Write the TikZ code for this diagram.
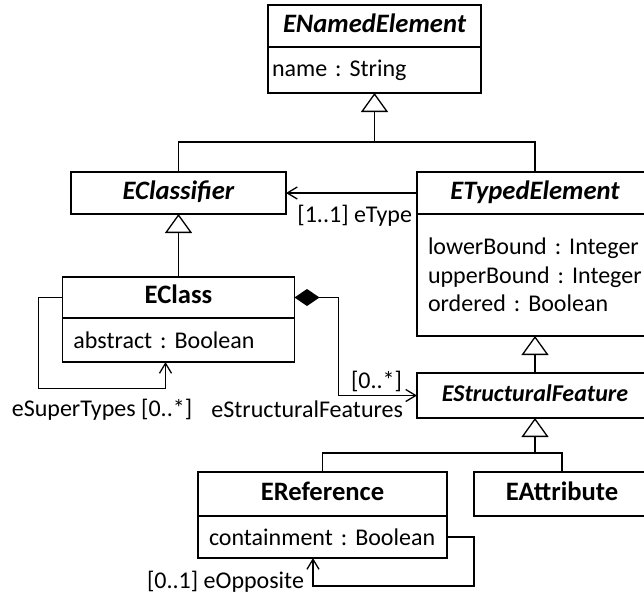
\documentclass[tikz,border=0pt]{standalone}
\usepackage{fontspec}
\setmainfont{Carlito}
\usetikzlibrary{positioning, arrows.meta, calc}
\frenchspacing

\begin{document}
\begin{tikzpicture}[
  x=0.5pt, y=-0.5pt,
  every node/.style={font=\fontsize{12}{14.2}\selectfont, outer sep=0pt},
  head/.style = {draw, line width=0.65pt, anchor=north west, inner sep=0pt, text height=9.2pt, text depth=2.8pt, font=\fontsize{13.3}{15}\selectfont\bfseries},
  abst/.style = {head, font=\fontsize{13.3}{15}\selectfont\bfseries\itshape},
  attr/.style = {draw, line width=0.65pt, align=left, inner ysep=0pt, inner xsep=5.5pt},
  link/.style = {line width=0.65pt},
  gen/.style  = {link, -{Triangle[open, length=9.5pt, width=13.5pt, fill=white]}},
  ref/.style  = {link, -{Straight Barb[length=5pt, width=6pt]}},
  comp/.style = {link, {Diamond[length=12.5pt, width=8.5pt]}-{Straight Barb[length=5pt, width=6pt]}},
  role/.style = {inner sep=0pt},
]
  \path[use as bounding box, clip] (0,0) rectangle (644,594);

  \node[abst, minimum width=106.5pt, minimum height=21pt] (ne) at (268,5) {ENamedElement};
  \node[attr, below=0pt of ne, minimum height=23pt, text width=102.5pt, inner xsep=2pt] (nea) {name : String};
  \node[abst, minimum width=107.5pt, minimum height=21pt] (cf) at (71,172) {EClassifier};
  \node[abst, minimum width=118pt, minimum height=21pt] (te) at (417,172) {ETypedElement};
  \node[attr, below=0pt of te, minimum height=61pt, text width=107pt] (tea) {lowerBound : Integer\\upperBound : Integer\\ordered : Boolean};
  \node[head, minimum width=116pt, minimum height=20.5pt] (cs) at (62.5,277) {EClass};
  \node[attr, below=0pt of cs, minimum height=22pt, text width=105pt] (csa) {abstract : Boolean};
  \node[abst, minimum width=118pt, minimum height=22.5pt, font=\fontsize{12}{15}\selectfont\bfseries\itshape] (sf) at (417,373) {EStructuralFeature};
  \node[head, minimum width=124.5pt, minimum height=22pt] (rf) at (198,472) {EReference};
  \node[attr, below=0pt of rf, minimum height=21pt, text width=113.5pt] (rfa) {containment : Boolean};
  \node[head, minimum width=88pt, minimum height=22pt] (at) at (474,472) {EAttribute};

  \coordinate (j1) at ($(nea.south)+(0,49)$);
  \draw[link] (cf.north) |- (j1) -| (te.north);
  \draw[gen] (j1) -- (nea.south);
  \coordinate (j2) at ($(sf.south)+(0,35)$);
  \draw[link] (rf.north) |- (j2) -| (at.north);
  \draw[gen] (j2) -- (sf.south);
  \foreach \a/\b in {cs/cf,sf/tea} \draw[gen] (\a.north) -- (\b.south);

  \draw[ref] (te.west) -- (cf.east)
        node[pos=0, role, anchor=base east, xshift=-2.5pt, yshift=-14.5pt]{[1..1] eType};
  \draw[comp] (cs.east) -- ++(44,0) |- (sf.west)
        node[role, anchor=base east, xshift=-7.5pt, yshift=3.75pt]{[0..*]}
        node[role, anchor=base east, xshift=-7pt, yshift=-10.75pt]{eStructuralFeatures};
  \draw[ref] (cs.west) -- ++(-24,0) -- ++(0,91)
        -- node[role, anchor=base, yshift=-13.75pt]{eSuperTypes [0..*]} ++(127,0) coordinate (st)
        -- (st |- csa.south);
  \draw[ref] (rfa.east) -- ++(27,0) -- ++(0,49) -- ++(-161,0) coordinate (eo)
        node[role, anchor=base east, xshift=-4.5pt, yshift=-1pt]{[0..1] eOpposite}
        -- (eo |- rfa.south);
\end{tikzpicture}
\end{document}
